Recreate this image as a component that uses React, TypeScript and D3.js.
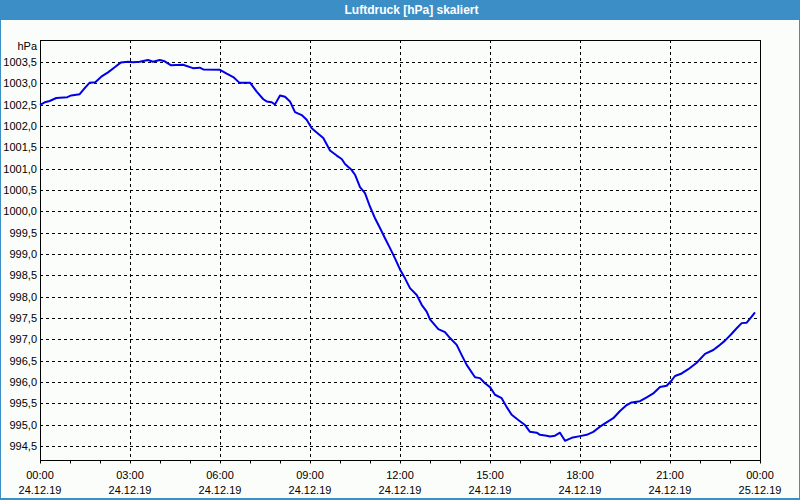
import React from "react";
import * as d3 from "d3";

const TITLE = "Luftdruck [hPa] skaliert";
const UNIT = "hPa";

// time in hours since 24.12.19 00:00
const hours = [
  0, 0.157, 0.323, 0.543, 0.91, 1.043, 1.323, 1.49, 1.657, 1.843,
  2.043, 2.267, 2.49, 2.69, 2.933, 3.1, 3.323, 3.6, 3.767, 3.99,
  4.157, 4.357, 4.767, 5.1, 5.323, 5.443, 6.0, 6.223, 6.443, 6.643,
  7.0, 7.223, 7.443, 7.557, 7.723, 7.833, 8.0, 8.167, 8.333, 8.5,
  8.723, 8.89, 9.057, 9.223, 9.443, 9.667, 9.89, 10.057, 10.167, 10.39,
  10.5, 10.667, 10.833, 11.0, 11.167, 11.333, 11.5, 11.667, 11.833, 12.0,
  12.167, 12.333, 12.557, 12.723, 12.89, 13.0, 13.277, 13.5, 13.667, 13.89,
  14.057, 14.223, 14.5, 14.667, 14.833, 15.0, 15.167, 15.39, 15.557, 15.723,
  15.943, 16.167, 16.333, 16.557, 16.667, 16.89, 17.0, 17.167, 17.333, 17.5,
  17.723, 18.0, 18.223, 18.443, 18.643, 18.833, 19.11, 19.333, 19.557, 19.723,
  20.0, 20.223, 20.443, 20.667, 20.89, 21.023, 21.167, 21.39, 21.61, 21.89,
  22.167, 22.443, 22.61, 22.833, 23.057, 23.223, 23.39, 23.557, 23.723, 23.833,
];

const pressure = [
  1002.5, 1002.56, 1002.59, 1002.66, 1002.68, 1002.72, 1002.75, 1002.89, 1003.02, 1003.03,
  1003.16, 1003.26, 1003.38, 1003.49, 1003.51, 1003.5, 1003.51, 1003.55, 1003.51, 1003.55,
  1003.52, 1003.43, 1003.44, 1003.36, 1003.37, 1003.33, 1003.32, 1003.23, 1003.15, 1003.02,
  1003.02, 1002.81, 1002.63, 1002.58, 1002.56, 1002.51, 1002.72, 1002.69, 1002.58, 1002.33,
  1002.26, 1002.15, 1001.95, 1001.85, 1001.72, 1001.43, 1001.31, 1001.23, 1001.11, 1000.97,
  1000.86, 1000.57, 1000.43, 1000.11, 999.84, 999.61, 999.37, 999.14, 998.9, 998.64,
  998.43, 998.2, 998.04, 997.81, 997.65, 997.47, 997.24, 997.17, 997.03, 996.87,
  996.63, 996.4, 996.11, 996.09, 995.97, 995.88, 995.7, 995.62, 995.41, 995.23,
  995.11, 994.99, 994.83, 994.81, 994.76, 994.74, 994.72, 994.74, 994.81, 994.62,
  994.69, 994.73, 994.76, 994.83, 994.94, 995.03, 995.15, 995.32, 995.46, 995.52,
  995.55, 995.64, 995.73, 995.88, 995.91, 996.01, 996.14, 996.2, 996.3, 996.45,
  996.66, 996.75, 996.84, 996.97, 997.13, 997.26, 997.38, 997.39, 997.53, 997.63,
];

const yTicks = [994.5, 995, 995.5, 996, 996.5, 997, 997.5, 998, 998.5, 999, 999.5, 1000, 1000.5, 1001, 1001.5, 1002, 1002.5, 1003, 1003.5];
const xMajor = [0, 3, 6, 9, 12, 15, 18, 21, 24];
const xTimeLabels = ["00:00", "03:00", "06:00", "09:00", "12:00", "15:00", "18:00", "21:00", "00:00"];
const xDateLabels = ["24.12.19", "24.12.19", "24.12.19", "24.12.19", "24.12.19", "24.12.19", "24.12.19", "24.12.19", "25.12.19"];
const xMinor = d3.range(0, 25, 1);

const W = 800;
const H = 500;
const L = 40, R = 760, T = 40, B = 460;
const FONT = "'Liberation Sans', Arial, sans-serif";

export default function App() {
  const x = d3.scaleLinear().domain([0, 24]).range([L, R]);
  const y = d3.scaleLinear().domain([994.17, 1004.02]).range([B, T]);
  const data = hours.map((h, i) => [h, pressure[i]] as [number, number]);
  const line = d3
    .line<[number, number]>()
    .x((d) => x(d[0]))
    .y((d) => y(d[1]));
  const fmt = (v: number) => v.toFixed(1).replace(".", ",");

  return (
    <svg
      width={W}
      height={H}
      style={{ position: "absolute", left: 0, top: 0, display: "block" }}
      fontFamily={FONT}
    >
      <rect x={0} y={0} width={W} height={H} fill="#fbfdfb" />
      {/* window frame */}
      <rect x={0} y={0} width={W} height={20} fill="#3c8fc6" />
      <rect x={0} y={0} width={1} height={H} fill="#3c8fc6" />
      <rect x={W - 1} y={0} width={1} height={H} fill="#3c8fc6" />
      <rect x={0} y={H - 2} width={W} height={2} fill="#3c8fc6" />
      <text x={411.5} y={10} textAnchor="middle" dominantBaseline="central" fill="#ffffff" fontWeight="bold" fontSize={12}>
        {TITLE}
      </text>

      {/* grid */}
      {yTicks.map((t) => (
        <line key={"gy" + t} x1={L} x2={R} y1={Math.round(y(t)) + 0.5} y2={Math.round(y(t)) + 0.5} stroke="#000" strokeWidth={1} strokeDasharray="3,3" />
      ))}
      {xMajor.slice(1, -1).map((t) => (
        <line key={"gx" + t} x1={x(t) + 0.5} x2={x(t) + 0.5} y1={T} y2={B} stroke="#000" strokeWidth={1} strokeDasharray="3,3" />
      ))}

      {/* frame */}
      <rect x={L + 0.5} y={T + 0.5} width={R - L} height={B - T} fill="none" stroke="#000" strokeWidth={1} />

      {/* x ticks */}
      {xMinor.map((t) => (
        <line key={"tk" + t} x1={x(t) + 0.5} x2={x(t) + 0.5} y1={B} y2={B + 3.5} stroke="#000" strokeWidth={1} />
      ))}

      {/* y labels */}
      <text x={37} y={46} textAnchor="end" dominantBaseline="central" fontSize={11} fill="#000">
        {UNIT}
      </text>
      {yTicks.map((t) => (
        <text key={"yl" + t} x={37} y={y(t)} textAnchor="end" dominantBaseline="central" fontSize={11} fill="#000">
          {fmt(t)}
        </text>
      ))}

      {/* x labels */}
      {xMajor.map((t, i) => (
        <g key={"xl" + t}>
          <text x={x(t)} y={475} textAnchor="middle" dominantBaseline="central" fontSize={11} fill="#000">
            {xTimeLabels[i]}
          </text>
          <text x={x(t)} y={490} textAnchor="middle" dominantBaseline="central" fontSize={11} fill="#000">
            {xDateLabels[i]}
          </text>
        </g>
      ))}

      {/* data line */}
      <path d={line(data) || ""} fill="none" stroke="#0000e6" strokeWidth={2} strokeLinejoin="round" />
    </svg>
  );
}
